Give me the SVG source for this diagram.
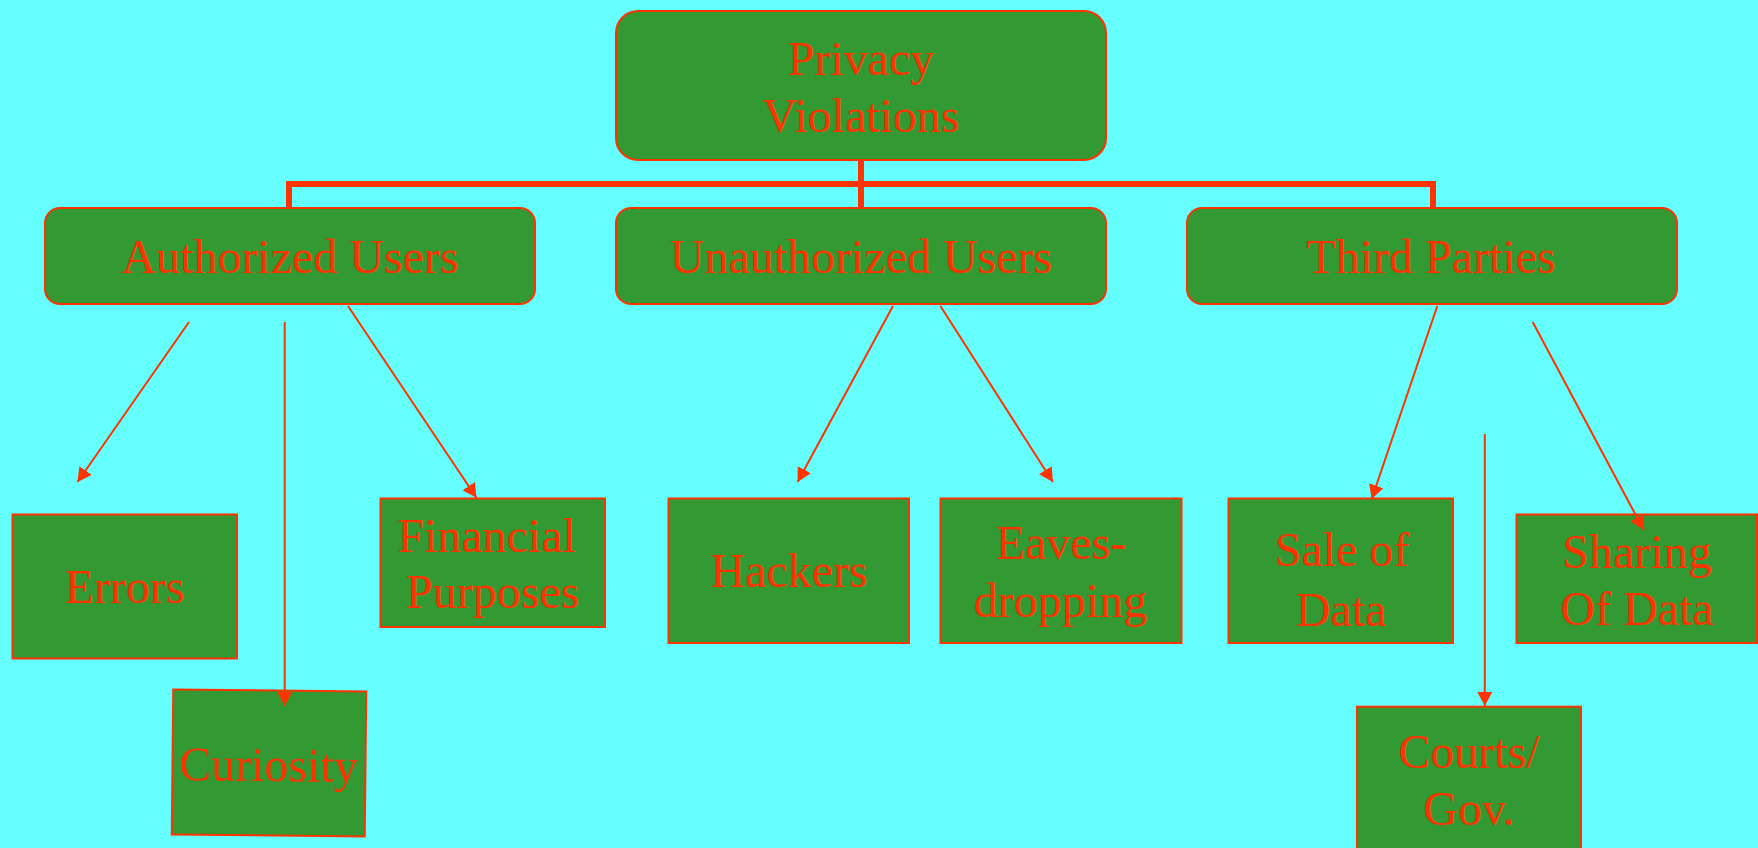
<svg xmlns="http://www.w3.org/2000/svg" width="1758" height="848" viewBox="0 0 1758 848">
<defs>
<style>
.bg{fill:#66FFFF}
.box{fill:#339933;stroke:#FF3300;stroke-width:2}
.t{font-family:"Liberation Serif","Times New Roman",serif;font-size:48px;fill:#FF3300;text-anchor:middle}
.bar{fill:none;stroke:#FF3300;stroke-width:6}
.ln{fill:none;stroke:#FF3300;stroke-width:2}
</style>
<marker id="ah" markerUnits="userSpaceOnUse" markerWidth="16" markerHeight="16" refX="14" refY="7.5" orient="auto" viewBox="0 0 16 16">
<path d="M0,0 L14,7.5 L0,15 z" fill="#FF3300"/>
</marker>
</defs>
<rect class="bg" x="0" y="0" width="1758" height="848"/>

<g id="privacy-violations">
<rect class="box" x="616" y="11" width="490" height="149" rx="22"/>
<text class="t" x="861" y="75">Privacy</text>
<text class="t" x="861" y="132">Violations</text>
</g>

<g id="authorized-users">
<rect class="box" x="45" y="208" width="490" height="96" rx="15"/>
<text class="t" x="290" y="273">Authorized Users</text>
</g>

<g id="unauthorized-users">
<rect class="box" x="616" y="208" width="490" height="96" rx="15"/>
<text class="t" x="861" y="273">Unauthorized Users</text>
</g>

<g id="third-parties">
<rect class="box" x="1187" y="208" width="490" height="96" rx="15"/>
<text class="t" x="1431" y="273">Third Parties</text>
</g>

<g id="errors">
<rect class="box" x="12.5" y="514.5" width="224.5" height="144"/>
<text class="t" x="124.8" y="603">Errors</text>
</g>

<g id="curiosity" transform="rotate(0.6 269 763)">
<rect class="box" x="172.5" y="690.5" width="193" height="145"/>
<text class="t" x="268.5" y="781">Curiosity</text>
</g>

<g id="financial-purposes">
<rect class="box" x="380.5" y="498.5" width="224.5" height="128.5"/>
<text class="t" x="486.5" y="552">Financial</text>
<text class="t" x="492.7" y="608">Purposes</text>
</g>

<g id="hackers">
<rect class="box" x="668.5" y="498.5" width="240.5" height="144.5"/>
<text class="t" x="789" y="587">Hackers</text>
</g>

<g id="eavesdropping">
<rect class="box" x="940.5" y="498.5" width="241" height="144.5"/>
<text class="t" x="1061" y="559">Eaves-</text>
<text class="t" x="1060.5" y="617">dropping</text>
</g>

<g id="sale-of-data">
<rect class="box" x="1228.5" y="498.5" width="224.5" height="144.5"/>
<text class="t" x="1342" y="566">Sale of</text>
<text class="t" x="1341" y="626">Data</text>
</g>

<g id="sharing-of-data">
<rect class="box" x="1516.5" y="514.5" width="240.5" height="128.5"/>
<text class="t" x="1637" y="568">Sharing</text>
<text class="t" x="1637" y="625">Of Data</text>
</g>

<g id="courts-gov">
<rect class="box" x="1357" y="706.7" width="224" height="160"/>
<text class="t" x="1469" y="768">Courts/</text>
<text class="t" x="1469" y="825">Gov.</text>
</g>

<g id="connectors">
<path class="bar" d="M861,160 V184 M289,208 V184 H1433 V208 M861,184 V208"/>
<line class="ln" x1="189" y1="322" x2="77.5" y2="482" marker-end="url(#ah)"/>
<line class="ln" x1="284.7" y1="322" x2="284.7" y2="706" marker-end="url(#ah)"/>
<line class="ln" x1="348" y1="306" x2="476.5" y2="497.7" marker-end="url(#ah)"/>
<line class="ln" x1="893" y1="306" x2="797.6" y2="482" marker-end="url(#ah)"/>
<line class="ln" x1="940.4" y1="306" x2="1052.9" y2="482" marker-end="url(#ah)"/>
<line class="ln" x1="1437.3" y1="306" x2="1371.7" y2="499" marker-end="url(#ah)"/>
<line class="ln" x1="1484.8" y1="434" x2="1484.8" y2="706" marker-end="url(#ah)"/>
<line class="ln" x1="1532.7" y1="322" x2="1643.7" y2="530" marker-end="url(#ah)"/>
</g>
</svg>
